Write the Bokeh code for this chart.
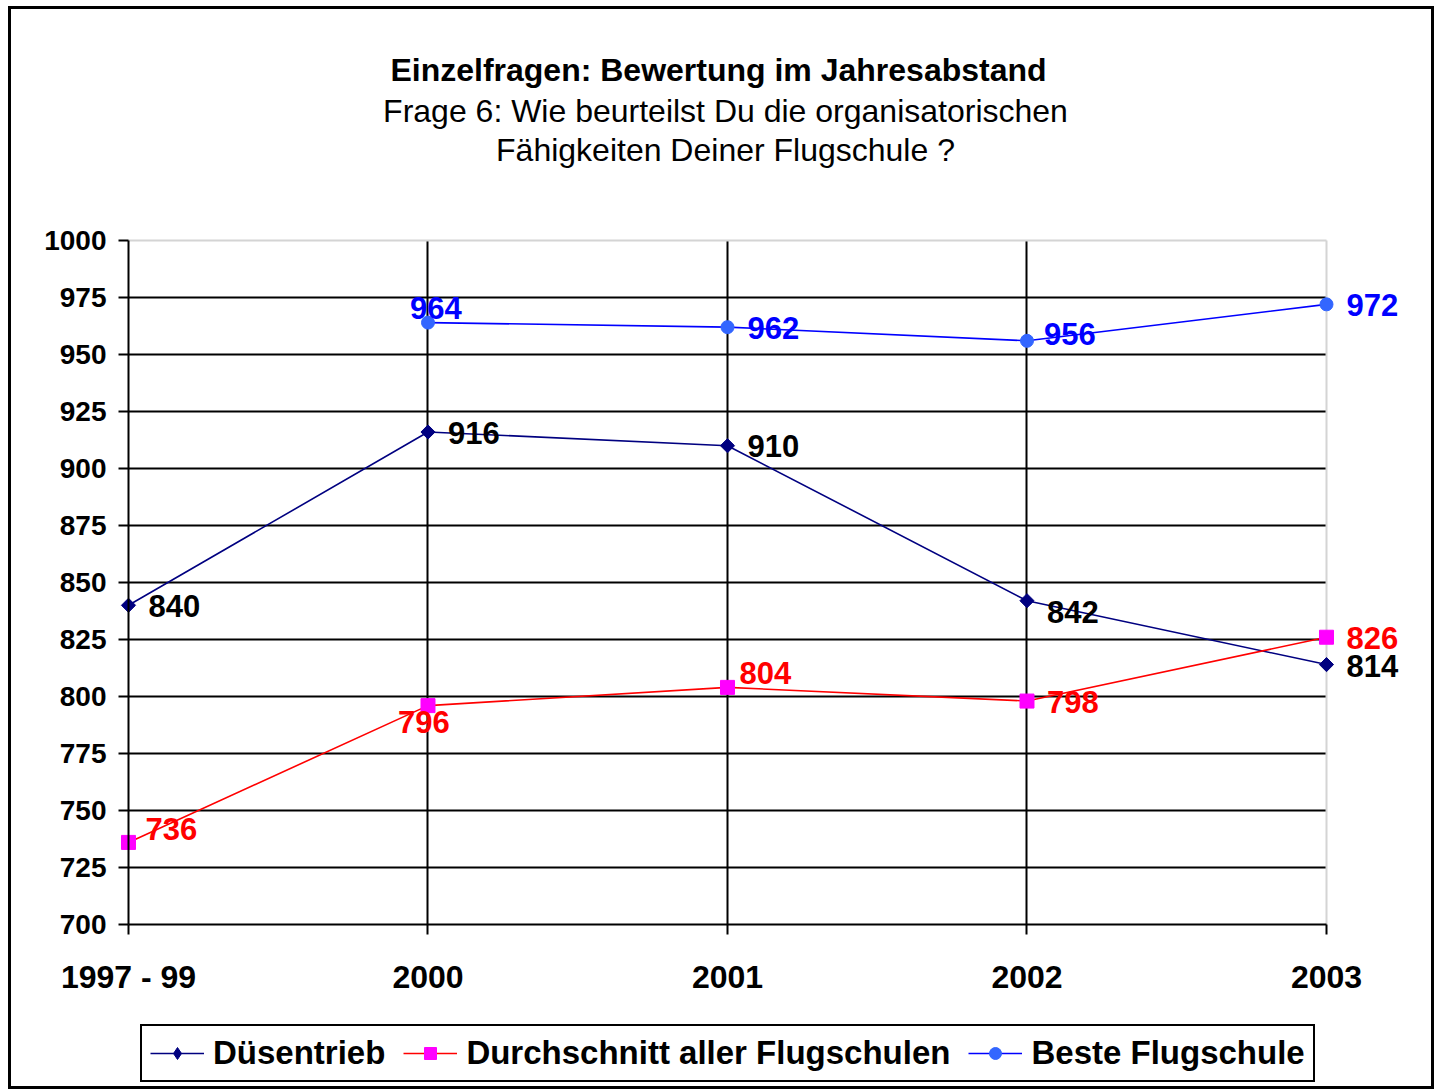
from bokeh.plotting import figure
from bokeh.models import Range1d, FixedTicker, Label, Legend, LegendItem, Grid
from bokeh.embed import file_html
from bokeh.resources import INLINE
import numpy as np

# ---- data ----
categories = ["1997 - 99", "2000", "2001", "2002", "2003"]
duesentrieb = [840, 916, 910, 842, 814]
durchschnitt = [736, 796, 804, 798, 826]
beste = [None, 964, 962, 956, 972]
series_names = ["Düsentrieb", "Durchschnitt aller Flugschulen", "Beste Flugschule"]
title_lines = ["Einzelfragen: Bewertung im Jahresabstand",
               "Frage 6: Wie beurteilst Du die organisatorischen",
               "Fähigkeiten Deiner Flugschule ?"]
y_ticks = list(range(700, 1001, 25))

FONT = "Liberation Sans"
xs = list(range(len(categories)))
X0, X1 = 0, len(categories) - 1
Y0, Y1 = y_ticks[0], y_ticks[-1]

# frame covers whole canvas; plot area mapped via ranges
W, H = 1420, 1077
p = figure(width=W, height=H, output_backend="svg", toolbar_location=None,
           x_range=Range1d(-0.39065, 4.37062), y_range=Range1d(626.316, 1101.316),
           min_border=0, min_border_left=0, min_border_right=0,
           min_border_top=0, min_border_bottom=0)
p.styles = {"border": "3px solid black", "margin-left": "8px", "margin-top": "6px",
            "box-sizing": "content-box"}
p.background_fill_color = "white"
p.border_fill_color = "white"
p.outline_line_color = None

# axes
p.yaxis.ticker = FixedTicker(ticks=y_ticks)
p.xaxis.ticker = FixedTicker(ticks=xs)
p.xaxis.major_label_overrides = {i: c for i, c in enumerate(categories)}
p.yaxis.fixed_location = X0
p.xaxis.fixed_location = Y0
p.yaxis.bounds = (Y0, Y1)
p.xaxis.bounds = (X0, X1)
for ax in (p.xaxis[0], p.yaxis[0]):
    ax.axis_line_color = "black"
    ax.axis_line_width = 2
    ax.major_tick_line_color = "black"
    ax.major_tick_line_width = 2
    ax.major_tick_in = 0
    ax.major_tick_out = 10
    ax.minor_tick_line_color = None
    ax.major_label_text_font = FONT
    ax.major_label_text_font_style = "bold"
    ax.major_label_text_color = "black"
p.yaxis.major_label_text_font_size = "28px"
p.yaxis.major_label_standoff = 12
p.xaxis.major_label_text_font_size = "32px"
p.xaxis.major_label_standoff = 24

# grid
p.xgrid.ticker = FixedTicker(ticks=xs[1:-1])
p.ygrid.ticker = FixedTicker(ticks=y_ticks[1:-1])
p.xgrid.cross_bounds = (Y0, Y1)
p.ygrid.cross_bounds = (X0, X1)
p.xgrid.grid_line_color = "black"
p.ygrid.grid_line_color = "black"
p.xgrid.grid_line_width = 2
p.ygrid.grid_line_width = 2
# light plot-area border on top and right
p.add_layout(Grid(dimension=0, ticker=FixedTicker(ticks=[X1]), cross_bounds=(Y0, Y1),
                  grid_line_color="#d4d4d4", grid_line_width=2), "center")
p.add_layout(Grid(dimension=1, ticker=FixedTicker(ticks=[Y1]), cross_bounds=(X0, X1),
                  grid_line_color="#d4d4d4", grid_line_width=2), "center")

# series
def arr(v):
    return np.array([np.nan if a is None else a for a in v], dtype=float)

l1 = p.line(xs, arr(duesentrieb), line_color="#000080", line_width=1.6)
# diamond used for the legend (hidden beneath the rotated squares in the plot)
m1_leg = p.scatter(xs, arr(duesentrieb), marker="diamond", size=10,
                   fill_color="#000080", line_color="#000080")
m1 = p.scatter(xs, arr(duesentrieb), marker="square", angle=np.pi / 4, size=10,
               fill_color="#000080", line_color="#000080")
l2 = p.line(xs, arr(durchschnitt), line_color="#FF0000", line_width=1.6)
m2 = p.scatter(xs, arr(durchschnitt), marker="square", size=14, fill_color="#FF00FF", line_color="#FF00FF")
l3 = p.line(xs, arr(beste), line_color="#0000FF", line_width=1.6)
m3 = p.scatter(xs, arr(beste), marker="circle", size=13, fill_color="#3366FF", line_color="#3366FF")

# data labels: (dx, dy-up) offsets in pixels
off1 = [(20, -1), (20, -1), (20, 0), (20, -11), (20, -1)]
off2 = [(17, 13), (-30, -16), (12, 14), (20, -1), (20, -1)]
off3 = [None, (-18, 15), (20, -1), (17, 7), (20, -1)]
for vals, offs, col in [(duesentrieb, off1, "black"), (durchschnitt, off2, "#FF0000"), (beste, off3, "#0000FF")]:
    for i, v in enumerate(vals):
        if v is None:
            continue
        dx, dy = offs[i]
        p.add_layout(Label(x=xs[i], y=v, text=str(v), x_offset=dx, y_offset=dy,
                           text_align="left", text_baseline="middle",
                           text_font=FONT, text_font_style="bold", text_font_size="31px",
                           text_color=col))

# titles
tys = [1075.0, 1057.0, 1039.5]
txo = [-9, -2, -2]
for k, t in enumerate(title_lines):
    p.add_layout(Label(x=(X0 + X1) / 2, y=tys[k], text=t, x_offset=txo[k],
                       text_align="center", text_baseline="middle", text_font=FONT,
                       text_font_style="bold" if k == 0 else "normal",
                       text_font_size="32px", text_color="black"))

legend = Legend(items=[LegendItem(label=series_names[0], renderers=[l1, m1_leg]),
                       LegendItem(label=series_names[1], renderers=[l2, m2]),
                       LegendItem(label=series_names[2], renderers=[l3, m3])],
                orientation="horizontal", location=(129, 10))
legend.label_text_font = FONT
legend.label_text_font_style = "bold"
legend.label_text_font_size = "33px"
legend.label_text_color = "black"
legend.glyph_width = 54
legend.glyph_height = 30
legend.label_standoff = 9
legend.spacing = 18
legend.padding = 8
legend.margin = 0
legend.border_line_color = "black"
legend.border_line_alpha = 1.0
legend.border_line_width = 2
legend.background_fill_color = "white"
legend.background_fill_alpha = 1
p.add_layout(legend, "center")

open("out.html", "w").write(file_html(p, INLINE))
